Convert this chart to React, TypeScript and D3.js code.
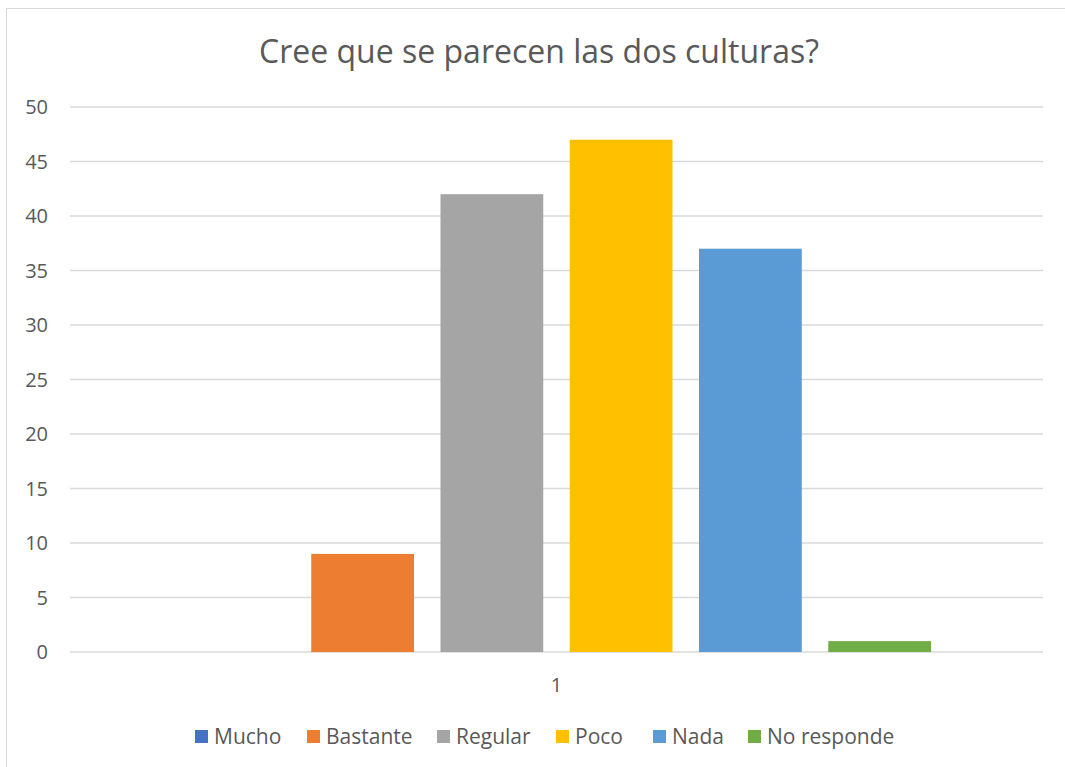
import React from "react";
import * as d3 from "d3";

const categories = ["1"];
const seriesNames = ["Mucho", "Bastante", "Regular", "Poco", "Nada", "No responde"];
const seriesValues = [0, 9, 42, 47, 37, 1];
const seriesColors = ["#4472C4", "#ED7D31", "#A5A5A5", "#FFC000", "#5B9BD5", "#70AD47"];
const yTicks = [0, 5, 10, 15, 20, 25, 30, 35, 40, 45, 50];
const title = "Cree que se parecen las dos culturas?";

const W = 1065, H = 767;
const plot = { left: 70, right: 1043, top: 107, bottom: 652 };
const FONT = "'Open Sans', 'Noto Sans', sans-serif";
const TXT = "#595959";

export default function App() {
  const y = d3.scaleLinear().domain([0, 50]).range([plot.bottom, plot.top]);
  const x0 = d3.scaleBand<string>().domain(categories).range([plot.left, plot.right]).paddingInner(0).paddingOuter(0.1495);
  const x1 = d3.scaleBand<string>().domain(seriesNames).range([0, x0.bandwidth()]).paddingInner(0.205).paddingOuter(0);

  // legend swatch x positions (layout)
  const legendX = [195, 307, 437, 556, 653, 748];

  return (
    <svg width={W} height={H} style={{ position: "absolute", left: 0, top: 0, background: "#fff" }}>
      <rect x={6.5} y={8.5} width={W + 10} height={H + 10} fill="#fff" stroke="#d9d9d9" strokeWidth={1} />
      <text x={539} y={63} textAnchor="middle" fontFamily={FONT} fontSize={32} fill={TXT}>{title}</text>
      {yTicks.map((t) => (
        <g key={t}>
          <line x1={plot.left} x2={plot.right} y1={y(t)} y2={y(t)} stroke="#d9d9d9" strokeWidth={1.3} />
          <text x={48} y={y(t) + 7} textAnchor="end" fontFamily={FONT} fontSize={20} fill={TXT}>{t}</text>
        </g>
      ))}
      {categories.map((c) => (
        <g key={c} transform={`translate(${x0(c)},0)`}>
          {seriesNames.map((s, i) => {
            const v = seriesValues[i];
            return (
              <rect key={s} x={x1(s)} y={y(v)} width={x1.bandwidth()} height={plot.bottom - y(v)} fill={seriesColors[i]} />
            );
          })}
          <text x={x0.bandwidth() / 2} y={692} textAnchor="middle" fontFamily={FONT} fontSize={20} fill={TXT}>{c}</text>
        </g>
      ))}
      {seriesNames.map((s, i) => (
        <g key={s} transform={`translate(${legendX[i]},0)`}>
          <rect x={0} y={730} width={13} height={13} fill={seriesColors[i]} />
          <text x={19} y={744} fontFamily={FONT} fontSize={21} fill={TXT}>{s}</text>
        </g>
      ))}
    </svg>
  );
}
